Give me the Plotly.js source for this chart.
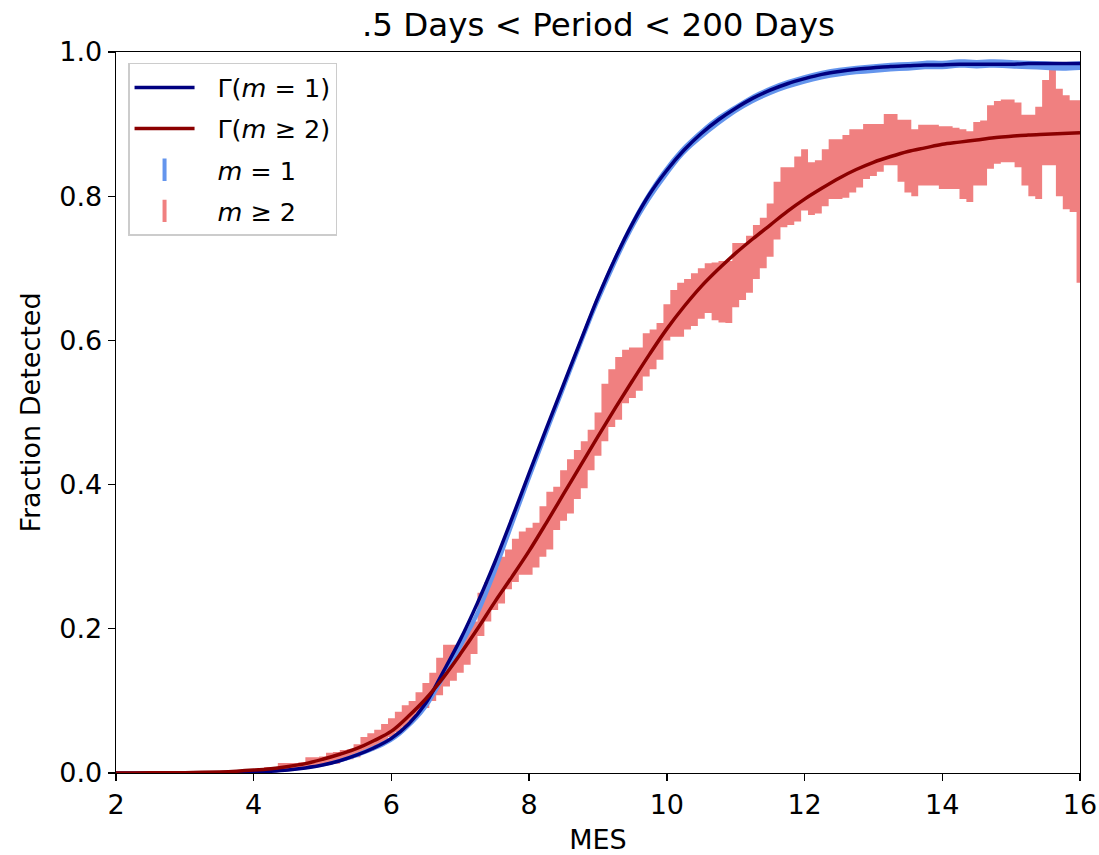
<!DOCTYPE html>
<html>
<head>
<meta charset="utf-8">
<script src="https://cdn.plot.ly/plotly-3.0.1.min.js"></script>
<style>html,body{margin:0;padding:0;background:#fff;}#chart{width:1099px;height:855px;}</style>
</head>
<body>
<div id="chart"></div>
<script>
// ---- Fitted curves ----
const mesCurve = [2.0,2.25,2.5,2.75,3.0,3.25,3.5,3.75,4.0,4.25,4.5,4.75,5.0,5.25,5.5,5.75,6.0,6.25,6.5,6.75,7.0,7.25,7.5,7.75,8.0,8.25,8.5,8.75,9.0,9.25,9.5,9.75,10.0,10.25,10.5,10.75,11.0,11.25,11.5,11.75,12.0,12.25,12.5,12.75,13.0,13.25,13.5,13.75,14.0,14.25,14.5,14.75,15.0,15.25,15.5,15.75,16.0];
const gammaM1 = [0,0,0,0.0001,0.0001,0.0002,0.0004,0.0008,0.0014,0.0025,0.0042,0.007,0.011,0.017,0.025,0.035,0.048,0.068,0.097,0.14,0.185,0.236,0.292,0.353,0.416,0.478,0.539,0.6,0.66,0.714,0.762,0.803,0.836,0.864,0.887,0.906,0.922,0.936,0.947,0.956,0.963,0.969,0.973,0.976,0.978,0.98,0.981,0.982,0.982,0.983,0.983,0.983,0.983,0.984,0.984,0.984,0.984];
const gammaM2 = [0,0.0001,0.0002,0.0003,0.0005,0.0009,0.0015,0.0025,0.004,0.006,0.009,0.013,0.019,0.026,0.034,0.045,0.058,0.079,0.103,0.132,0.165,0.2,0.237,0.272,0.308,0.347,0.387,0.427,0.467,0.506,0.544,0.581,0.616,0.647,0.675,0.699,0.721,0.741,0.76,0.779,0.796,0.811,0.825,0.837,0.847,0.855,0.862,0.867,0.872,0.875,0.878,0.881,0.883,0.885,0.886,0.887,0.888];

// ---- m = 1 measured fraction with error ----
const mesM1 = [2.0,2.5,3.0,3.5,4.0,4.5,5.0,5.5,6.0,6.25,6.5,6.75,7.0,7.25,7.5,7.75,8.0,8.25,8.5,8.75,9.0,9.25,9.5,9.75,10.0,10.25,10.5,10.75,11.0,11.25,11.5,11.75,12.0,12.25,12.5,12.75,13.0,13.25,13.5,13.75,14.0,14.25,14.5,14.75,15.0,15.25,15.5,15.75,16.0];
const fracM1 = [0,0,0.0001,0.0004,0.0014,0.0042,0.011,0.025,0.047,0.066,0.093,0.132,0.176,0.222,0.28,0.345,0.41,0.473,0.535,0.597,0.657,0.711,0.76,0.801,0.835,0.864,0.886,0.905,0.921,0.935,0.946,0.955,0.962,0.968,0.972,0.975,0.977,0.979,0.98,0.982,0.982,0.984,0.983,0.984,0.983,0.982,0.981,0.98,0.981];
const errM1 = [0,0,0.0005,0.001,0.001,0.0015,0.002,0.003,0.004,0.004,0.005,0.005,0.006,0.007,0.008,0.008,0.008,0.008,0.008,0.008,0.008,0.008,0.008,0.008,0.008,0.007,0.007,0.007,0.006,0.006,0.006,0.006,0.006,0.006,0.006,0.006,0.006,0.006,0.006,0.006,0.006,0.006,0.006,0.006,0.006,0.006,0.006,0.006,0.006];

// ---- m >= 2 measured fraction: lower / upper ends of the error bars ----
const mesM2 = [3.0,3.2,3.4,3.6,3.8,4.0,4.1,4.2,4.3,4.4,4.5,4.6,4.7,4.8,4.9,5.0,5.1,5.2,5.3,5.4,5.5,5.6,5.7,5.8,5.9,6.0,6.1,6.2,6.3,6.4,6.5,6.6,6.7,6.8,6.9,7.0,7.1,7.2,7.3,7.4,7.5,7.6,7.7,7.8,7.9,8.0,8.1,8.2,8.3,8.4,8.5,8.6,8.7,8.8,8.9,9.0,9.1,9.2,9.3,9.4,9.5,9.6,9.7,9.8,9.9,10.0,10.1,10.2,10.3,10.4,10.5,10.6,10.7,10.8,10.9,11.0,11.1,11.2,11.3,11.4,11.5,11.6,11.7,11.8,11.9,12.0,12.1,12.2,12.3,12.4,12.5,12.6,12.7,12.8,12.9,13.0,13.1,13.2,13.3,13.4,13.5,13.6,13.7,13.8,13.9,14.0,14.1,14.2,14.3,14.4,14.5,14.6,14.7,14.8,14.9,15.0,15.1,15.2,15.3,15.4,15.5,15.6,15.7,15.8,15.9,16.0];
const loM2 = [0,0,0,0,0,0,0.001,0.001,0.002,0.003,0.004,0.005,0.006,0.008,0.009,0.010,0.012,0.013,0.017,0.019,0.022,0.028,0.031,0.036,0.042,0.050,0.056,0.064,0.072,0.083,0.090,0.100,0.108,0.120,0.128,0.139,0.150,0.165,0.190,0.210,0.226,0.235,0.255,0.265,0.275,0.275,0.285,0.300,0.310,0.337,0.350,0.360,0.380,0.395,0.420,0.440,0.460,0.480,0.490,0.513,0.520,0.530,0.550,0.560,0.573,0.600,0.605,0.605,0.615,0.620,0.630,0.638,0.628,0.625,0.624,0.646,0.656,0.666,0.685,0.700,0.716,0.740,0.757,0.760,0.765,0.780,0.774,0.776,0.786,0.796,0.796,0.798,0.805,0.812,0.824,0.828,0.834,0.843,0.843,0.820,0.805,0.800,0.815,0.815,0.815,0.810,0.810,0.810,0.796,0.792,0.815,0.815,0.838,0.845,0.847,0.847,0.840,0.815,0.800,0.796,0.843,0.843,0.800,0.782,0.778,0.680];
const hiM2 = [0.001,0.001,0.002,0.002,0.003,0.005,0.007,0.008,0.008,0.014,0.014,0.014,0.015,0.022,0.022,0.023,0.028,0.029,0.032,0.033,0.040,0.050,0.055,0.060,0.068,0.076,0.085,0.094,0.100,0.112,0.125,0.139,0.160,0.178,0.178,0.180,0.200,0.210,0.250,0.265,0.285,0.300,0.310,0.325,0.335,0.340,0.347,0.370,0.390,0.397,0.420,0.435,0.448,0.460,0.476,0.500,0.540,0.560,0.577,0.587,0.590,0.590,0.610,0.615,0.624,0.650,0.670,0.680,0.685,0.693,0.700,0.707,0.708,0.710,0.710,0.735,0.735,0.745,0.760,0.770,0.790,0.820,0.840,0.840,0.855,0.865,0.847,0.850,0.865,0.879,0.879,0.885,0.893,0.893,0.900,0.900,0.900,0.914,0.914,0.906,0.906,0.893,0.899,0.899,0.899,0.897,0.897,0.895,0.893,0.890,0.903,0.905,0.926,0.932,0.934,0.934,0.930,0.913,0.913,0.924,0.961,0.980,0.949,0.940,0.933,0.933];

const xTicks = [2,4,6,8,10,12,14,16];
const yTicks = [0.0,0.2,0.4,0.6,0.8,1.0];

const NAVY = '#000080', DARKRED = '#8b0000', CBLUE = '#6495ed', LCORAL = '#f08080';

const loM1 = fracM1.map((v,i)=>v-errM1[i]);
const hiM1 = fracM1.map((v,i)=>v+errM1[i]);

const PAD = '\u2002\u2009';
const traces = [
  {x: mesM2, y: loM2, mode:'lines', line:{width:0, shape:'hvh'}, hoverinfo:'skip', showlegend:false},
  {x: mesM2, y: hiM2, mode:'lines', line:{width:0, shape:'hvh'}, fill:'tonexty', fillcolor:LCORAL, hoverinfo:'skip', showlegend:false},
  {x: mesM1, y: loM1, mode:'lines', line:{width:0, shape:'spline'}, hoverinfo:'skip', showlegend:false},
  {x: mesM1, y: hiM1, mode:'lines', line:{width:0, shape:'spline'}, fill:'tonexty', fillcolor:CBLUE, hoverinfo:'skip', showlegend:false},
  {x: mesCurve, y: gammaM1, mode:'lines', name:PAD+'Γ(<i>m</i> = 1)', line:{color:NAVY, width:3.5, shape:'spline'}, legendrank:1, legendgroup:'a'},
  {x: mesCurve, y: gammaM2, mode:'lines', name:PAD+'Γ(<i>m</i> ≥ 2)', line:{color:DARKRED, width:3.5, shape:'spline'}, legendrank:2, legendgroup:'b'},
  {x:[null], y:[null], mode:'markers', name:PAD+'<i>m</i> = 1', marker:{symbol:'line-ns', size:16, line:{color:CBLUE, width:4}}, legendrank:3, legendgroup:'c'},
  {x:[null], y:[null], mode:'markers', name:PAD+'<i>m</i> ≥ 2', marker:{symbol:'line-ns', size:16, line:{color:LCORAL, width:4}}, legendrank:4, legendgroup:'d'}
];

const FONT = 'DejaVu Sans, sans-serif';
const layout = {
  width:1099, height:855,
  margin:{l:116, r:19, t:52, b:82},
  paper_bgcolor:'#fff', plot_bgcolor:'#fff',
  font:{family:FONT, color:'#000', size:26},
  title:{text:'.5 Days < Period < 200 Days', font:{family:FONT, size:32.5, color:'#000'}, x:0.5445, xanchor:'center', y:0.971, yanchor:'middle'},
  xaxis:{range:[2,16], tickvals:xTicks, ticktext:xTicks.map(String), ticks:'outside', ticklen:7, tickwidth:1.4, tickcolor:'#000',
         showline:true, mirror:true, linecolor:'#000', linewidth:1.4, showgrid:false, zeroline:false,
         tickfont:{family:FONT, size:27}, title:{text:'MES', font:{family:FONT, size:27}, standoff:12}},
  yaxis:{range:[0,1], tickvals:yTicks, ticktext:yTicks.map(v=>v.toFixed(1)), ticks:'outside', ticklen:7, tickwidth:1.4, tickcolor:'#000',
         showline:true, mirror:true, linecolor:'#000', linewidth:1.4, showgrid:false, zeroline:false,
         tickfont:{family:FONT, size:27}, title:{text:'Fraction Detected', font:{family:FONT, size:27}, standoff:10}},
  legend:{x:0.0125, y:0.985, xanchor:'left', yanchor:'top', bgcolor:'rgba(255,255,255,0.85)', bordercolor:'#cccccc', borderwidth:1.5,
          font:{family:FONT, size:25.5}, tracegroupgap:5, itemwidth:60},
  showlegend:true
};

Plotly.newPlot('chart', traces, layout, {displayModeBar:false, staticPlot:true});
</script>
</body>
</html>
